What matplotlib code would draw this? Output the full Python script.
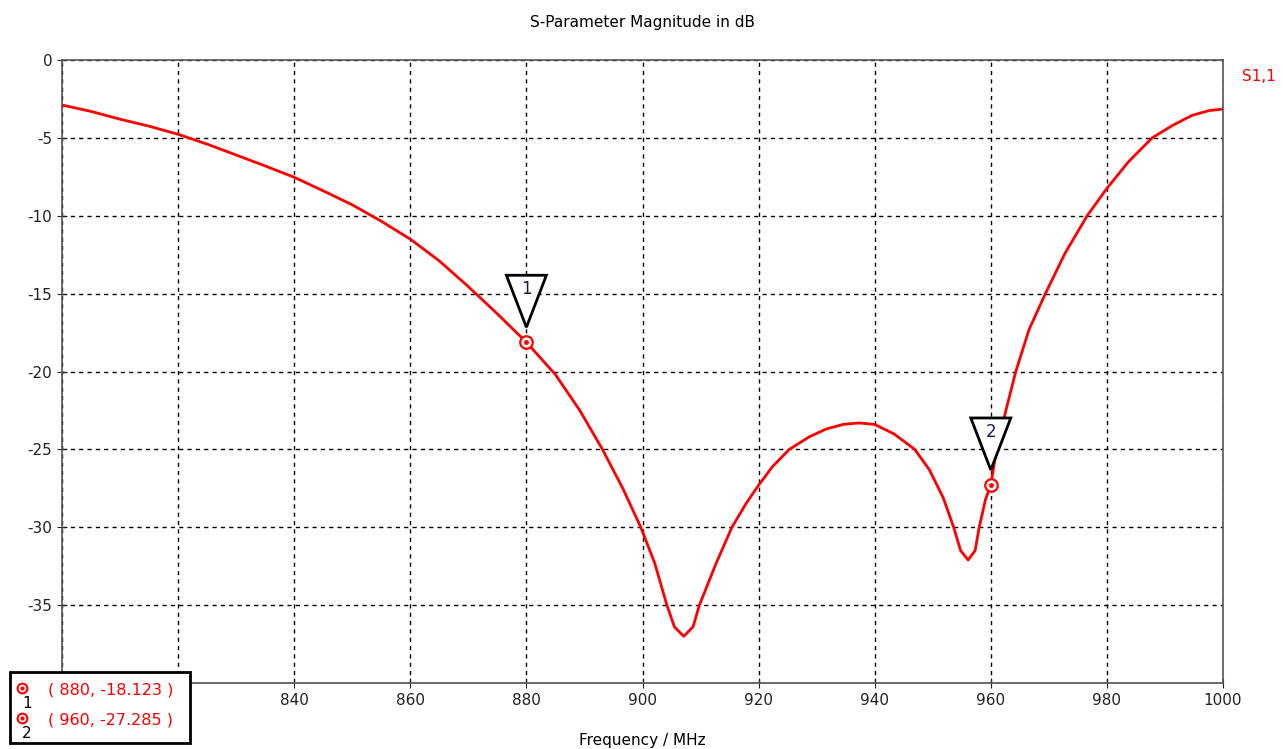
import matplotlib.pyplot as plt
import matplotlib.transforms as mtransforms
from matplotlib.patches import Polygon, Rectangle

plt.rcParams['axes.unicode_minus'] = False

# S1,1 magnitude (MHz, dB)
freq = [800, 805, 810, 815, 820, 825, 830, 835, 840, 845, 850, 855, 860, 865,
        870, 875, 880, 885, 889.2, 893.1, 896.6, 899.7, 902.1, 904.2, 905.5,
        907.1, 908.7, 909.8, 912.7, 915.4, 917.8, 920, 922.4, 925.3, 928.7,
        931.6, 934.5, 937.3, 940, 943.3, 946.9, 949.4, 951.8, 953.6, 954.8,
        956.1, 957.3, 958, 959.1, 960, 961, 962.6, 964.3, 966.6, 969.4, 972.8,
        976.6, 980, 983.8, 987.8, 991.3, 994.7, 997.6, 1000]
s11 = [-2.89, -3.3, -3.8, -4.25, -4.77, -5.4, -6.1, -6.8, -7.53, -8.4, -9.3,
       -10.35, -11.5, -12.9, -14.55, -16.3, -18.12, -20.2, -22.5, -25.0, -27.5,
       -30.0, -32.3, -35.0, -36.4, -37.0, -36.4, -35.0, -32.3, -30.0, -28.5,
       -27.3, -26.1, -25.0, -24.2, -23.7, -23.4, -23.3, -23.4, -24.0, -25.0,
       -26.3, -28.1, -30.0, -31.5, -32.1, -31.5, -30.0, -28.2, -27.285, -25.0,
       -22.5, -20.0, -17.3, -15.0, -12.4, -10.0, -8.24, -6.5, -5.0, -4.2,
       -3.55, -3.25, -3.15]

# markers
mk_x = [880, 960]
mk_y = [-18.123, -27.285]
mk_id = ['1', '2']

xticks = [800, 820, 840, 860, 880, 900, 920, 940, 960, 980, 1000]
xlabels = ['', '', '840', '860', '880', '900', '920', '940', '960', '980', '1000']
yticks = [0, -5, -10, -15, -20, -25, -30, -35, -40]
ylabels = ['0', '-5', '-10', '-15', '-20', '-25', '-30', '-35', '']

fig = plt.figure(figsize=(12.83, 7.49), dpi=100)
ax = fig.add_axes([62 / 1283, 66 / 749, 1161 / 1283, 623 / 749])

ax.plot(freq, s11, color='red', linewidth=2, zorder=3)
ax.set_xlim(800, 1000)
ax.set_ylim(-40, 0)
ax.set_xticks(xticks, xlabels)
ax.set_yticks(yticks, ylabels)
ax.grid(True, color='black', linestyle=(0, (3, 3)), linewidth=1)
ax.tick_params(direction='inout', length=7, labelsize=11, colors='#222222')
for s in ax.spines.values():
    s.set_color('#555555')
    s.set_linewidth(1.2)
    s.set_zorder(4)

ax.set_title('S-Parameter Magnitude in dB', fontsize=11, pad=24)
ax.set_xlabel('Frequency / MHz', fontsize=11, labelpad=18)
ax.text(1.016, 0.973, 'S1,1', color='red', fontsize=11, transform=ax.transAxes,
        ha='left', va='center')

# marker points and triangle flags
for x, y, k in zip(mk_x, mk_y, mk_id):
    ax.plot(x, y, 'o', mfc='white', mec='red', ms=9, mew=1.6, zorder=5)
    ax.plot(x, y, 'o', color='red', ms=2.5, zorder=6)
    tr = fig.dpi_scale_trans + mtransforms.ScaledTranslation(x, y, ax.transData)
    tri = Polygon([(-0.2, 0.67), (0.2, 0.67), (0, 0.15)], closed=True,
                  facecolor='white', edgecolor='black', linewidth=2,
                  transform=tr, zorder=7, clip_on=False)
    ax.add_patch(tri)
    ax.text(0, 0.53, k, transform=tr, ha='center', va='center', fontsize=12,
            color='#1a1a40', zorder=8)

# marker readout box in the lower left corner
box = Rectangle((10 / 1283, 6 / 749), 180 / 1283, 71 / 749, transform=fig.transFigure,
                facecolor='white', edgecolor='black', linewidth=2, zorder=20)
fig.patches.append(box)
for i, (x, y, k) in enumerate(zip(mk_x, mk_y, mk_id)):
    yy = 1 - (690 + 30 * i) / 749
    fig.text(48 / 1283, yy, '( %d, %.3f )' % (x, y), color='red', fontsize=11.5,
             ha='left', va='center', zorder=21)
    fig.lines.append(plt.Line2D([22 / 1283], [yy + 2 / 749], marker='o', mfc='white',
                                mec='red', ms=7, mew=1.5, transform=fig.transFigure,
                                zorder=21))
    fig.lines.append(plt.Line2D([22 / 1283], [yy + 2 / 749], marker='o', color='red',
                                ms=2, transform=fig.transFigure, zorder=22))
    fig.text(27 / 1283, yy - 13 / 749, k, color='black', fontsize=11,
             ha='center', va='center', zorder=21)

fig.savefig('out.png', dpi=100)
